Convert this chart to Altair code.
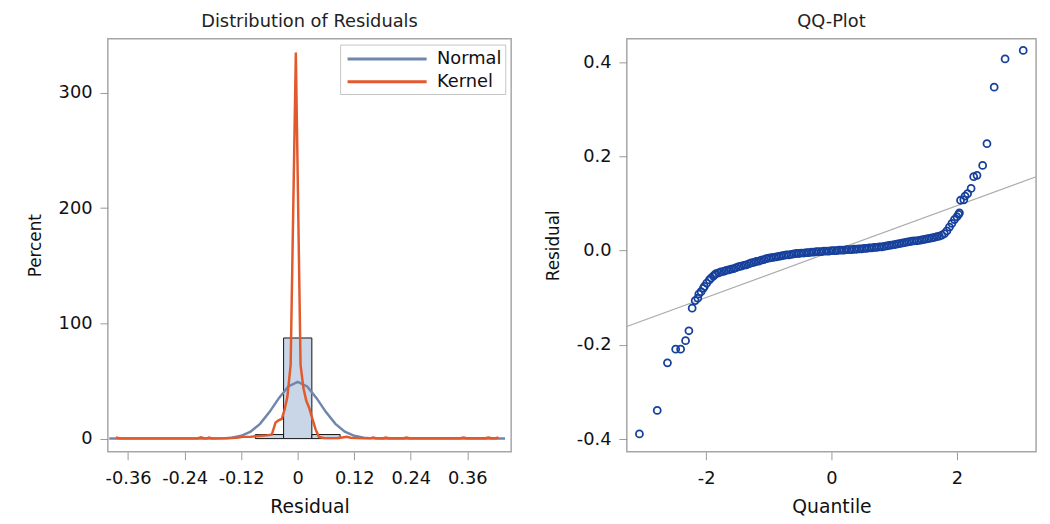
import altair as alt
import pandas as pd

FONT = "DejaVu Sans"

# ---------------- Distribution of Residuals ----------------
bin_start = [-0.09, -0.03, 0.03]
bin_end = [-0.03, 0.03, 0.09]
bin_pct = [3.5, 87.3, 3.5]

normal_x = [-0.40, -0.20, -0.18, -0.16, -0.14, -0.12, -0.10, -0.08, -0.06, -0.04, -0.02, 0.00,
            0.02, 0.04, 0.06, 0.08, 0.10, 0.12, 0.14, 0.16, 0.18, 0.20, 0.44]
normal_y = [0.0, 0.0, 0.05, 0.2, 0.8, 2.4, 6.0, 12.8, 23.0, 35.1, 45.2, 49.2,
            45.2, 35.1, 23.0, 12.8, 6.0, 2.4, 0.8, 0.2, 0.05, 0.0, 0.0]

kernel_x = [-0.386, -0.378, -0.300, -0.213, -0.205, -0.198, -0.193, -0.188, -0.182, -0.150,
            -0.130, -0.115, -0.100, -0.090, -0.078, -0.066, -0.055, -0.047, -0.040, -0.034,
            -0.028, -0.022, -0.015, -0.004, 0.006, 0.012, 0.018, 0.024, 0.032, 0.038,
            0.045, 0.055, 0.070, 0.085, 0.095, 0.104, 0.112, 0.125, 0.140, 0.155,
            0.160, 0.166, 0.182, 0.187, 0.193, 0.225, 0.231, 0.237, 0.345, 0.352,
            0.358, 0.398, 0.405, 0.411, 0.420, 0.426]
kernel_y = [1.0, 0.2, 0.2, 0.2, 1.2, 0.2, 0.2, 1.0, 0.2, 0.3,
            0.8, 1.5, 1.5, 2.0, 2.5, 2.8, 3.5, 14.0, 16.0, 17.0,
            25.0, 36.0, 64.0, 335.0, 64.0, 44.0, 33.0, 27.0, 16.0, 8.0,
            1.5, 0.5, 0.4, 0.5, 1.0, 1.5, 0.8, 0.6, 0.3, 0.3,
            1.0, 0.3, 0.3, 1.0, 0.3, 0.3, 1.0, 0.3, 0.3, 1.0,
            0.3, 0.3, 1.0, 0.3, 0.3, 1.0]

# ---------------- QQ-Plot ----------------
qq_quantile = [
    -3.063, -2.779, -2.616, -2.485, -2.406, -2.327, -2.274, -2.222, -2.174, -2.132,
    -2.116, -2.080, -2.045, -2.027, -1.990, -1.948, -1.920, -1.885, -1.860, -1.843,
    -1.800, -1.764,
    -1.72, -1.68, -1.64, -1.60, -1.56, -1.52, -1.48, -1.44, -1.40, -1.36,
    -1.32, -1.28, -1.24, -1.20, -1.16, -1.12, -1.08, -1.04, -1.00, -0.96,
    -0.92, -0.88, -0.84, -0.80, -0.76, -0.72, -0.68, -0.64, -0.60, -0.56,
    -0.52, -0.48, -0.44, -0.40, -0.36, -0.32, -0.28, -0.24, -0.20, -0.16,
    -0.12, -0.08, -0.04, 0.00, 0.04, 0.08, 0.12, 0.16, 0.20, 0.24,
    0.28, 0.32, 0.36, 0.40, 0.44, 0.48, 0.52, 0.56, 0.60, 0.64,
    0.68, 0.72, 0.76, 0.80, 0.84, 0.88, 0.92, 0.96, 1.00, 1.04,
    1.08, 1.12, 1.16, 1.20, 1.24, 1.28, 1.32, 1.36, 1.40, 1.44,
    1.48, 1.52, 1.56, 1.60, 1.64, 1.68, 1.72, 1.76, 1.80, 1.84,
    1.88, 1.92, 1.96, 2.00,
    2.026, 2.040, 2.057, 2.110, 2.130, 2.170, 2.226, 2.267, 2.320, 2.410,
    2.479, 2.594, 2.768, 3.057]
qq_residual = [
    -0.389, -0.339, -0.238, -0.209, -0.209, -0.191, -0.170, -0.122, -0.106, -0.101,
    -0.092, -0.087, -0.080, -0.076, -0.069, -0.062, -0.058, -0.054, -0.051, -0.049,
    -0.047, -0.045,
    -0.044, -0.042, -0.041, -0.039, -0.038, -0.036, -0.034, -0.033, -0.031, -0.030,
    -0.028, -0.026, -0.025, -0.023, -0.022, -0.020, -0.019, -0.017, -0.016, -0.015,
    -0.014, -0.013, -0.012, -0.011, -0.010, -0.009, -0.009, -0.008, -0.007, -0.006,
    -0.006, -0.005, -0.005, -0.004, -0.004, -0.003, -0.003, -0.002, -0.002, -0.002,
    -0.001, -0.001, -0.001, 0.000, 0.000, 0.000, 0.001, 0.001, 0.001, 0.002,
    0.002, 0.002, 0.003, 0.003, 0.004, 0.004, 0.005, 0.005, 0.006, 0.006,
    0.007, 0.007, 0.008, 0.008, 0.009, 0.010, 0.011, 0.012, 0.013, 0.014,
    0.015, 0.016, 0.017, 0.018, 0.019, 0.020, 0.021, 0.021, 0.022, 0.023,
    0.024, 0.025, 0.026, 0.027, 0.028, 0.030, 0.031, 0.033, 0.036, 0.042,
    0.050, 0.058, 0.066, 0.072,
    0.077, 0.080, 0.107, 0.108, 0.116, 0.121, 0.132, 0.157, 0.160, 0.181,
    0.227, 0.347, 0.407, 0.425]

ref_quantile = [-3.264, 3.262]
ref_residual = [-0.161, 0.157]

# ---------------- data frames ----------------
hist_df = pd.DataFrame({"start": bin_start, "end": bin_end, "pct": bin_pct})
curves_df = pd.concat([
    pd.DataFrame({"x": normal_x, "y": normal_y, "series": "Normal", "o": range(len(normal_x))}),
    pd.DataFrame({"x": kernel_x, "y": kernel_y, "series": "Kernel", "o": range(len(kernel_x))}),
])
qq_df = pd.DataFrame({"q": qq_quantile, "r": qq_residual})
ref_df = pd.DataFrame({"q": ref_quantile, "r": ref_residual})

# ---------------- left panel ----------------
xs_l = alt.Scale(domain=[-0.403, 0.453], nice=False, zero=False)
ys_l = alt.Scale(domain=[-11.5, 347], nice=False, zero=False)

x_axis_l = alt.Axis(values=[-0.36, -0.24, -0.12, 0, 0.12, 0.24, 0.36],
                    labelExpr="datum.value == 0 ? '0' : '' + datum.value",
                    title="Residual")
y_axis_l = alt.Axis(values=[0, 100, 200, 300], title="Percent", titleFontSize=17)

bars = alt.Chart(hist_df).mark_rect(fill="#c9d6e8", stroke="#111111", strokeWidth=1).encode(
    x=alt.X("start:Q", scale=xs_l, axis=x_axis_l),
    x2="end:Q",
    y=alt.Y("pct:Q", scale=ys_l, axis=y_axis_l),
    y2=alt.datum(0),
)

curves = alt.Chart(curves_df).mark_line(strokeWidth=2.5, clip=True).encode(
    x=alt.X("x:Q", scale=xs_l),
    y=alt.Y("y:Q", scale=ys_l),
    order="o:Q",
    color=alt.Color("series:N",
                    scale=alt.Scale(domain=["Normal", "Kernel"], range=["#6f87ad", "#e2592b"]),
                    legend=alt.Legend(title=None, orient="top-right", offset=6,
                                      symbolType="M-4,0H4", symbolSize=400,
                                      symbolStrokeWidth=3, symbolOffset=33, labelOffset=39,
                                      labelFontSize=18, labelFont=FONT, labelColor="#111111",
                                      strokeColor="#c4c4c4", fillColor="white",
                                      padding=3, rowPadding=2)),
)

left = alt.layer(bars, curves).properties(
    width=408, height=418,
    title=alt.TitleParams("Distribution of Residuals"),
)

# ---------------- right panel ----------------
xs_r = alt.Scale(domain=[-3.264, 3.262], nice=False, zero=False)
ys_r = alt.Scale(domain=[-0.427, 0.45], nice=False, zero=False)

x_axis_r = alt.Axis(values=[-2, 0, 2], labelExpr="'' + datum.value", title="Quantile")
y_axis_r = alt.Axis(values=[-0.4, -0.2, 0, 0.2, 0.4],
                    labelExpr="datum.value == 0 ? '0.0' : '' + datum.value",
                    title="Residual", titleFontSize=17)

ref_line = alt.Chart(ref_df).mark_line(color="#aaaaaa", strokeWidth=1.2, clip=True).encode(
    x=alt.X("q:Q", scale=xs_r, axis=x_axis_r),
    y=alt.Y("r:Q", scale=ys_r, axis=y_axis_r),
)
points = alt.Chart(qq_df).mark_point(shape="circle", filled=False, size=50, strokeWidth=1.8,
                                     color="#16409c", opacity=1).encode(
    x=alt.X("q:Q", scale=xs_r),
    y=alt.Y("r:Q", scale=ys_r),
)

right = alt.layer(ref_line, points).properties(
    width=414, height=418,
    title=alt.TitleParams("QQ-Plot"),
)

chart = alt.hconcat(left, right, spacing=32).resolve_scale(color="independent").properties(
    padding={"left": 17, "top": 1, "right": 5, "bottom": 5}
).configure_view(
    stroke="#a6a6a6", strokeWidth=1.5
).configure_axis(
    grid=False, domain=False,
    tickColor="#9a9a9a", tickSize=8, tickWidth=1,
    labelFont=FONT, labelFontSize=18, labelColor="#111111", labelPadding=8,
    titleFont=FONT, titleFontSize=19, titleFontWeight="normal", titleColor="#111111",
).configure_axisX(labelPadding=10, titlePadding=10).configure_axisY(titlePadding=14).configure_title(
    font=FONT, fontSize=18, fontWeight="normal", color="#222222", offset=8
)

chart.save("out.html", embed_options={"renderer": "svg", "actions": False})
